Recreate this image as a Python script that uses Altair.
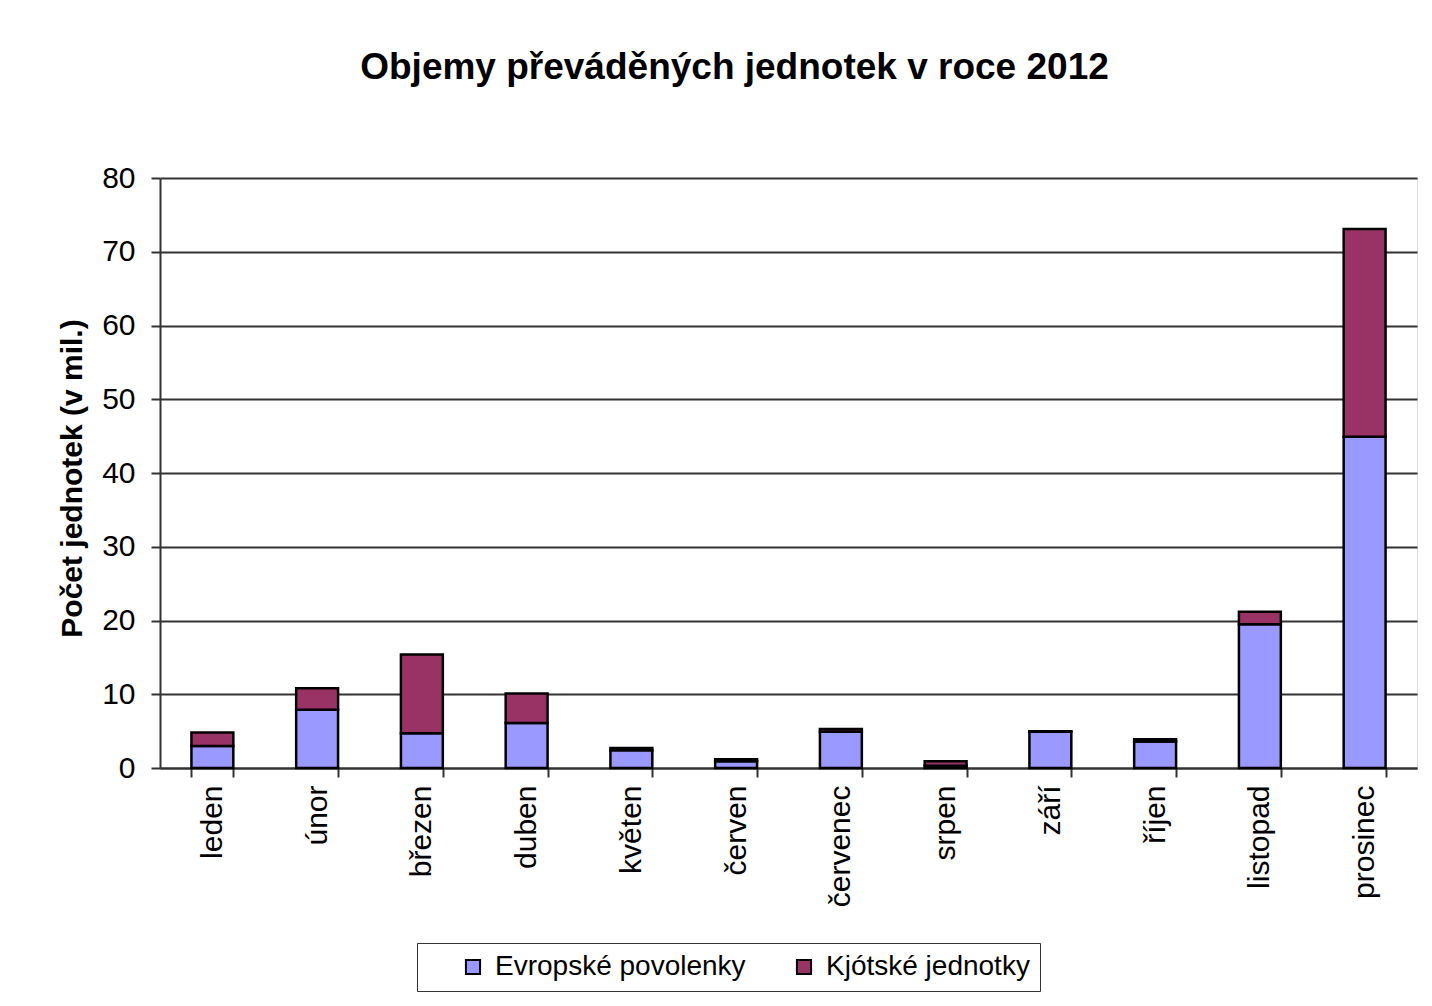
import altair as alt
import pandas as pd

months = ["leden", "únor", "březen", "duben", "květen", "červen",
          "červenec", "srpen", "září", "říjen", "listopad", "prosinec"]
series = ["Evropské povolenky", "Kjótské jednotky"]
eu_values = [3.0, 7.9, 4.7, 6.1, 2.4, 0.9, 4.9, 0.3, 4.9, 3.6, 19.5, 44.9]
kyoto_values = [1.8, 2.9, 10.7, 4.0, 0.3, 0.3, 0.4, 0.6, 0.1, 0.3, 1.7, 28.2]
colors = ["#9999FF", "#993366"]
y_ticks = [0, 10, 20, 30, 40, 50, 60, 70, 80]

rows = []
for i, m in enumerate(months):
    rows.append({"mesic": m, "typ": series[0], "hodnota": eu_values[i], "poradi": 0})
    rows.append({"mesic": m, "typ": series[1], "hodnota": kyoto_values[i], "poradi": 1})
df = pd.DataFrame(rows)

FONT = "Liberation Sans"

chart = alt.Chart(df).mark_bar(stroke="black", strokeWidth=2.5).encode(
    x=alt.X("mesic:N", sort=months, title=None,
            scale=alt.Scale(paddingInner=0.6, paddingOuter=0.3),
            axis=alt.Axis(labelAngle=-90, labelFontSize=30, labelFont=FONT,
                          labelColor="black", labelLimit=0, tickBand="extent", tickSize=9,
                          tickColor="#333", tickWidth=2, domainColor="#333",
                          domainWidth=2, labelPadding=8, grid=False)),
    y=alt.Y("hodnota:Q", stack="zero", title="Počet jednotek (v mil.)",
            scale=alt.Scale(domain=[0, 80], nice=False),
            axis=alt.Axis(values=y_ticks, labelFontSize=30, labelFont=FONT,
                          labelColor="black", tickSize=9, tickColor="#333",
                          tickWidth=2, domainColor="#333", domainWidth=2,
                          labelPadding=16, gridColor="#333", gridWidth=2,
                          titleFont=FONT, titleFontSize=30, titleFontWeight="bold",
                          titleColor="black", titleX=-88, titleY=300,
                          titleAlign="center", titleBaseline="middle")),
    color=alt.Color("typ:N", scale=alt.Scale(domain=series, range=colors),
                    legend=alt.Legend(title=None, orient="none", direction="horizontal",
                                      legendX=257, legendY=765, labelLimit=0,
                                      labelFont=FONT, labelFontSize=28, labelColor="black",
                                      symbolType="square", symbolSize=200,
                                      symbolStrokeColor="black", symbolStrokeWidth=2,
                                      strokeColor="#333", padding=10, symbolOffset=32,
                                      columnPadding=12, labelOffset=8)),
    order=alt.Order("poradi:Q", sort="ascending"),
).properties(
    width=1257, height=590,
    title=alt.TitleParams("Objemy  převáděných jednotek v roce 2012", font=FONT,
                          fontSize=37, fontWeight="bold", color="black",
                          anchor="middle", offset=76, dx=-54),
    autosize=alt.AutoSizeParams(type="none"),
    padding={"left": 152, "top": 170, "right": 5, "bottom": 225},
).configure_view(stroke="#999", strokeWidth=2).configure(background="white")

chart.save("out.html", embed_options={"renderer": "svg", "actions": False})
